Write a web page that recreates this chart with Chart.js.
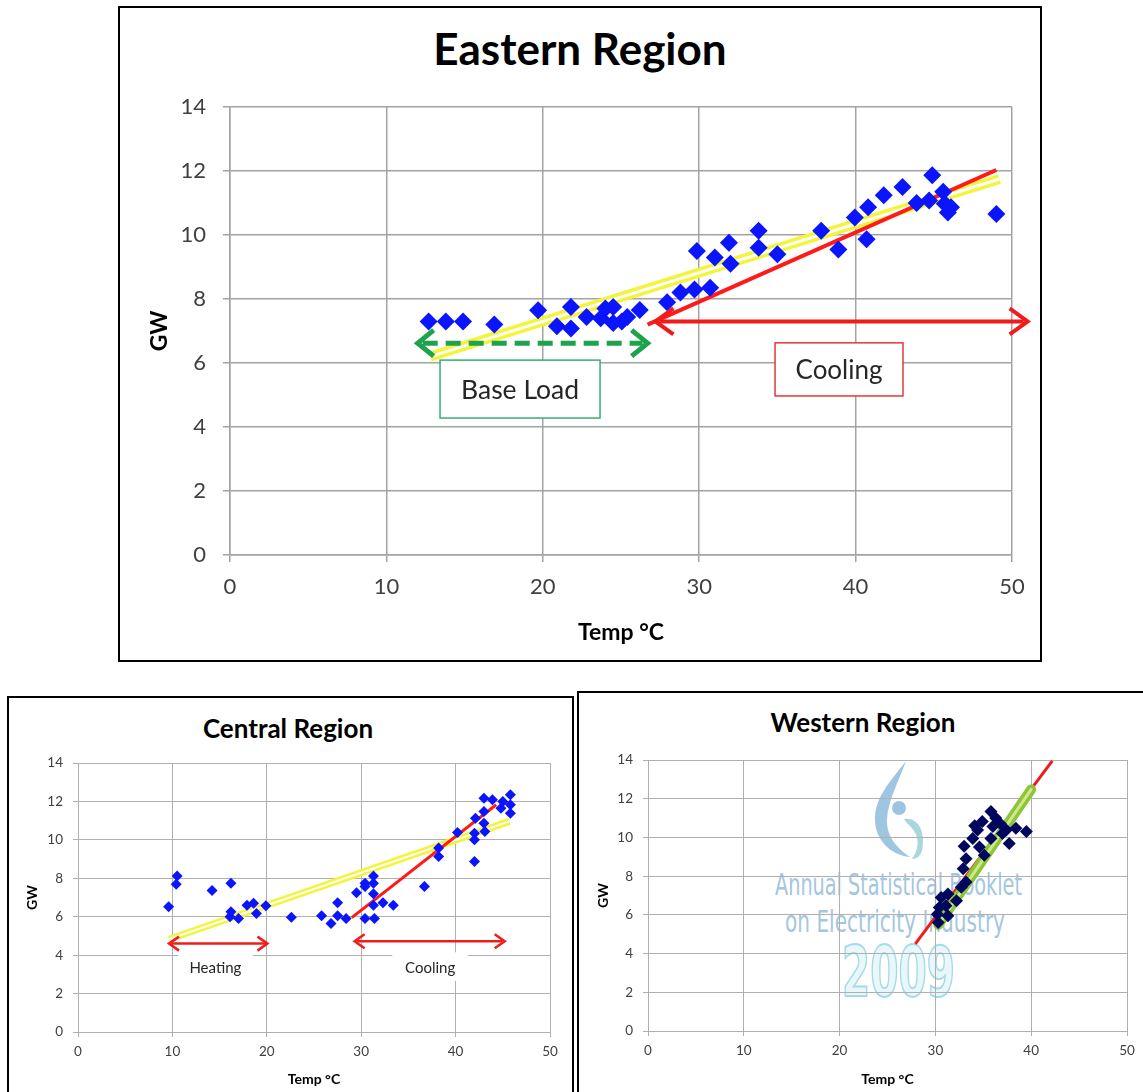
<!DOCTYPE html>
<html><head><meta charset="utf-8">
<script src="https://cdn.jsdelivr.net/npm/chart.js@4.4.1/dist/chart.umd.min.js"></script>
<style>
body{margin:0;width:1143px;height:1092px;background:#fff;position:relative;overflow:hidden;font-family:Lato,sans-serif;}
.frame{position:absolute;border:2px solid #000;box-sizing:border-box;background:#fff}
.ttl{position:absolute;font-weight:bold;color:#000;white-space:nowrap;transform:translate(-50%,-50%)}
.wm{position:absolute;white-space:nowrap;transform-origin:0 50%;}
canvas{position:absolute}
</style></head><body>
<div class="frame" style="left:118px;top:6px;width:924px;height:656px"></div>
<div class="frame" style="left:7px;top:696px;width:567px;height:420px"></div>
<div class="frame" style="left:577px;top:691px;width:600px;height:420px"></div>

<svg style="position:absolute;left:860px;top:755px" width="80" height="110" viewBox="0 0 80 110">
  <path d="M46 6 C34 22 16 40 15 62 C14 84 30 100 50 102 C38 94 26 82 27 64 C28 46 38 28 46 6 Z" fill="#7fb3d6" opacity="0.75"/>
  <path d="M44 64 C58 62 66 76 62 96 C60 102 56 104 52 104 C58 96 60 84 54 76 C50 70 46 68 44 64 Z" fill="#8ccad2" opacity="0.75"/>
  <circle cx="39" cy="53" r="7" fill="#8db9dc" opacity="0.85"/>
</svg>
<div class="wm" id="wm1" data-w="247" style="left:775px;top:868px;font:30px 'DejaVu Sans Condensed','DejaVu Sans';color:#a4c6df;line-height:34px">Annual Statistical Booklet</div>
<div class="wm" id="wm2" data-w="220" style="left:785px;top:905px;font:30px 'DejaVu Sans Condensed','DejaVu Sans';color:#a4c6df;line-height:34px">on Electricity Industry</div>
<div class="wm" id="wm3" data-w="113" style="left:842px;top:936px;font:bold 70px 'DejaVu Sans Condensed','DejaVu Sans';color:#e9f7fb;-webkit-text-stroke:2px #a3dbe8;line-height:72px">2009</div>

<div class="ttl" style="left:580px;top:48px;font-size:44px">Eastern Region</div>
<div class="ttl" style="left:288px;top:728px;font-size:26px">Central Region</div>
<div class="ttl" style="left:863px;top:722px;font-size:26px">Western Region</div>

<canvas id="east" width="920" height="652" style="left:120px;top:8px;width:920px;height:652px"></canvas>
<canvas id="central" width="560" height="394" style="left:10px;top:698px;width:560px;height:394px"></canvas>
<canvas id="west" width="563" height="398" style="left:580px;top:694px;width:563px;height:398px"></canvas>

<script>
// ---------------- DATA ----------------
const xTicks = [0, 10, 20, 30, 40, 50];
const yTicks = [0, 2, 4, 6, 8, 10, 12, 14];

const eastTemp = [12.7,13.8,14.9,16.9,19.7,20.9,21.8,21.8,22.8,23.7,24.0,24.5,24.5,25.4,25.05,26.2,27.95,28.8,29.7,30.7,29.85,31.0,31.9,32.0,33.8,33.8,35.0,37.8,38.9,39.95,40.7,40.8,41.8,43.0,43.9,44.9,44.7,45.6,45.7,45.9,46.1,49.0];
const eastGW   = [7.3,7.3,7.3,7.2,7.65,7.15,7.75,7.08,7.44,7.4,7.7,7.25,7.75,7.44,7.3,7.66,7.9,8.2,8.3,8.35,9.5,9.3,9.76,9.1,10.13,9.6,9.4,10.13,9.55,10.55,9.87,10.87,11.24,11.5,11.0,11.87,11.08,11.35,10.98,10.7,10.87,10.66];
const eastTrendX = [12.8, 49.2];
const eastTrendY = [6.2, 11.75];
const eastCoolX  = [26.7, 49.0];
const eastCoolY  = [7.2, 12.03];
const eastBaseArrowX = [12.0, 26.7];
const eastBaseArrowY = 6.62;
const eastCoolArrowX = [27.2, 51.0];
const eastCoolArrowY = 7.3;
const eastNotes = ['Base Load', 'Cooling'];

const centralTemp = [9.6,10.5,10.4,14.2,16.2,16.2,16.1,17.0,17.9,18.6,18.9,19.9,22.6,25.8,26.8,27.5,27.5,28.4,29.5,30.4,30.4,31.3,31.3,31.3,31.3,30.4,31.4,32.3,33.4,36.7,38.2,38.2,40.2,42.0,42.0,42.0,42.1,43.0,43.0,43.0,43.1,43.9,44.8,45.0,45.8,45.8,45.8];
const centralGW   = [6.52,8.12,7.69,7.36,7.74,6.26,6.0,5.91,6.6,6.7,6.17,6.57,5.97,6.05,5.65,6.73,6.05,5.91,7.25,7.74,7.57,8.12,7.74,7.2,6.6,5.91,5.91,6.73,6.6,7.57,9.57,9.13,10.38,8.87,10.0,10.35,11.13,12.17,11.48,10.87,10.43,12.09,11.65,12.0,12.35,11.83,11.39];
const centralTrendX = [9.64, 45.7];
const centralTrendY = [4.83, 10.96];
const centralCoolX  = [29.0, 44.3];
const centralCoolY  = [5.95, 11.83];
const centralHeatArrowX = [9.64, 20.07];
const centralHeatArrowY = 4.6;
const centralCoolArrowX = [29.3, 45.2];
const centralCoolArrowY = 4.72;
const centralNotes = ['Heating', 'Cooling'];

const westTemp = [35.8,36.3,34.9,34.1,34.4,36.0,37.4,38.4,39.5,35.8,37.7,33.9,33.0,34.6,35.1,33.2,32.9,33.2,32.7,32.2,31.3,30.6,31.1,30.4,30.2,30.3,31.3,36.8,37.0];
const westGW   = [11.34,11.0,10.82,10.6,10.38,10.56,10.38,10.47,10.3,9.95,9.69,9.95,9.55,9.5,9.08,8.9,8.38,7.7,7.43,6.73,7.08,6.9,6.47,6.38,6.03,5.6,5.95,10.7,10.2];
const westRedX = [27.9, 42.2];
const westRedY = [4.5, 13.95];
const westGreenX = [30.3, 40.0];
const westGreenY = [5.48, 12.48];

// ---------------- HELPERS ----------------
const pts = (xs, ys) => xs.map((v, i) => ({x: v, y: ys[i]}));
Chart.defaults.font.family = 'Lato, sans-serif';

const annot = {
  id: 'annot',
  beforeDatasetsDraw(chart, args, o) {
    const {ctx, scales: {x, y}} = chart;
    (o.boxes || []).forEach(b => {
      const x1 = x.getPixelForValue(b.x1), x2 = x.getPixelForValue(b.x2);
      const y1 = y.getPixelForValue(b.y1), y2 = y.getPixelForValue(b.y2);
      ctx.save();
      ctx.fillStyle = '#fff';
      ctx.fillRect(x1, y1, x2 - x1, y2 - y1);
      if (b.border) { ctx.strokeStyle = b.border; ctx.lineWidth = b.bw; ctx.strokeRect(x1, y1, x2 - x1, y2 - y1); }
      ctx.fillStyle = '#262626'; ctx.font = b.font; ctx.textAlign = 'center'; ctx.textBaseline = 'middle';
      ctx.fillText(b.text, (x1 + x2) / 2, (y1 + y2) / 2 + 1);
      ctx.restore();
    });
  },
  afterDatasetsDraw(chart, args, o) {
    const {ctx, scales: {x, y}} = chart;
    (o.arrows || []).forEach(a => {
      const x1 = x.getPixelForValue(a.x1), x2 = x.getPixelForValue(a.x2), py = y.getPixelForValue(a.y);
      ctx.save();
      ctx.strokeStyle = a.color; ctx.lineWidth = a.w; ctx.lineCap = 'butt';
      ctx.setLineDash(a.dash || []);
      ctx.beginPath(); ctx.moveTo(x1 + a.w, py); ctx.lineTo(x2 - a.w, py); ctx.stroke();
      ctx.setLineDash([]); ctx.lineJoin = 'miter'; ctx.lineCap = 'butt';
      ctx.beginPath();
      ctx.moveTo(x1 + a.hx, py - a.hy); ctx.lineTo(x1, py); ctx.lineTo(x1 + a.hx, py + a.hy);
      ctx.moveTo(x2 - a.hx, py - a.hy); ctx.lineTo(x2, py); ctx.lineTo(x2 - a.hx, py + a.hy);
      ctx.stroke();
      ctx.restore();
    });
  }
};

function scales(o) {
  const grid = {color: o.grid, lineWidth: o.gw, tickLength: o.tl, drawTicks: true};
  return {
    x: {type: 'linear', min: 0, max: 50, afterFit: s => { s.height = o.xh; },
        afterBuildTicks: s => { s.ticks = xTicks.map(v => ({value: v})); },
        grid, border: {color: o.grid, width: o.gw},
        ticks: {color: '#404040', font: {size: o.fs}, padding: o.xp, maxRotation: 0},
        title: {display: true, text: 'Temp °C', color: '#000', font: {size: o.ts, weight: 'bold'}, padding: {top: 0, bottom: o.xtp}}},
    y: {type: 'linear', min: 0, max: 14, afterFit: s => { s.width = o.yw; },
        afterBuildTicks: s => { s.ticks = yTicks.map(v => ({value: v})); },
        grid, border: {color: o.grid, width: o.gw},
        ticks: {color: '#404040', font: {size: o.fs}, padding: o.yp},
        title: {display: true, text: 'GW', color: '#000', font: {size: o.ts, weight: 'bold'}, padding: {top: o.ytp, bottom: 0}}}
  };
}
const base = (pad, sc, plug) => ({
  responsive: false, animation: false, events: [],
  layout: {padding: pad},
  plugins: {legend: {display: false}, tooltip: {enabled: false}, annot: plug},
  scales: sc
});
const line = (xs, ys, color, w, cap) => ({data: pts(xs, ys), showLine: true, pointRadius: 0, borderColor: color, borderWidth: w, borderCapStyle: cap || 'butt', fill: false});

// ---------------- EASTERN ----------------
new Chart(document.getElementById('east'), {
  type: 'scatter',
  data: {datasets: [
    {data: pts(eastTemp, eastGW), pointStyle: 'rectRot', pointRadius: 9, backgroundColor: '#0a14ff', borderColor: '#0a14ff', borderWidth: 0},
    line(eastCoolX, eastCoolY, '#ff1a1a', 4),
    line(eastTrendX, eastTrendY, '#ffffff', 3),
    line(eastTrendX, eastTrendY, '#f4f43a', 10)
  ]},
  options: base({left: 0, top: 99, right: 28, bottom: 0},
    scales({grid: '#a3a3a3', gw: 1.5, tl: 7, xh: 105, yw: 110, fs: 22, xp: 12, yp: 17, ts: 23, xtp: 14, ytp: 26}),
    {boxes: [
      {x1: 13.43, x2: 23.66, y1: 6.09, y2: 4.28, text: eastNotes[0], border: '#3aae6e', bw: 1.5, font: '26.5px Lato'},
      {x1: 34.85, x2: 43.03, y1: 6.63, y2: 4.97, text: eastNotes[1], border: '#e03a3a', bw: 1.5, font: '26px Lato'}
    ], arrows: [
      {x1: eastBaseArrowX[0], x2: eastBaseArrowX[1], y: eastBaseArrowY, color: '#1ea34c', w: 5, dash: [15, 8], hx: 16, hy: 13},
      {x1: eastCoolArrowX[0], x2: eastCoolArrowX[1], y: eastCoolArrowY, color: '#f01c1c', w: 4, hx: 18, hy: 13}
    ]}),
  plugins: [annot]
});

// ---------------- CENTRAL ----------------
new Chart(document.getElementById('central'), {
  type: 'scatter',
  data: {datasets: [
    {data: pts(centralTemp, centralGW), pointStyle: 'rectRot', pointRadius: 5.5, backgroundColor: '#0a14ff', borderColor: '#0a14ff', borderWidth: 0},
    line(centralCoolX, centralCoolY, '#ff1a1a', 3),
    line(centralTrendX, centralTrendY, '#ffffff', 2),
    line(centralTrendX, centralTrendY, '#f4f43a', 7)
  ]},
  options: base({left: 0, top: 65, right: 20, bottom: 0},
    scales({grid: '#b0b0b0', gw: 1, tl: 5, xh: 60, yw: 68, fs: 13.5, xp: 7, yp: 10, ts: 14, xtp: 4, ytp: 14}),
    {boxes: [
      {x1: 10.6, x2: 18.5, y1: 4.15, y2: 2.65, text: centralNotes[0], font: '15px Lato'},
      {x1: 33.3, x2: 41.3, y1: 4.15, y2: 2.65, text: centralNotes[1], font: '15px Lato'}
    ], arrows: [
      {x1: centralHeatArrowX[0], x2: centralHeatArrowX[1], y: centralHeatArrowY, color: '#f01c1c', w: 2.5, hx: 10, hy: 7},
      {x1: centralCoolArrowX[0], x2: centralCoolArrowX[1], y: centralCoolArrowY, color: '#f01c1c', w: 2.5, hx: 10, hy: 7}
    ]}),
  plugins: [annot]
});

// ---------------- WESTERN ----------------
new Chart(document.getElementById('west'), {
  type: 'scatter',
  data: {datasets: [
    {data: pts(westTemp, westGW), pointStyle: 'rectRot', pointRadius: 6.5, backgroundColor: '#00085e', borderColor: '#00085e', borderWidth: 0},
    line(westGreenX, westGreenY, '#cfe98a', 3, 'round'),
    line(westGreenX, westGreenY, '#8cc43a', 10, 'round'),
    line(westRedX, westRedY, '#f01c1c', 3)
  ]},
  options: base({left: 0, top: 66, right: 16, bottom: 0},
    scales({grid: '#b0b0b0', gw: 1, tl: 5, xh: 61, yw: 68, fs: 13.5, xp: 7, yp: 10, ts: 14, xtp: 4, ytp: 15}),
    {}),
  plugins: [annot]
});

// fit watermark text widths
document.querySelectorAll('.wm').forEach(el => {
  const w = el.getBoundingClientRect().width;
  el.style.transform = 'scaleX(' + (+el.dataset.w / w) + ')';
});
</script>
</body></html>
